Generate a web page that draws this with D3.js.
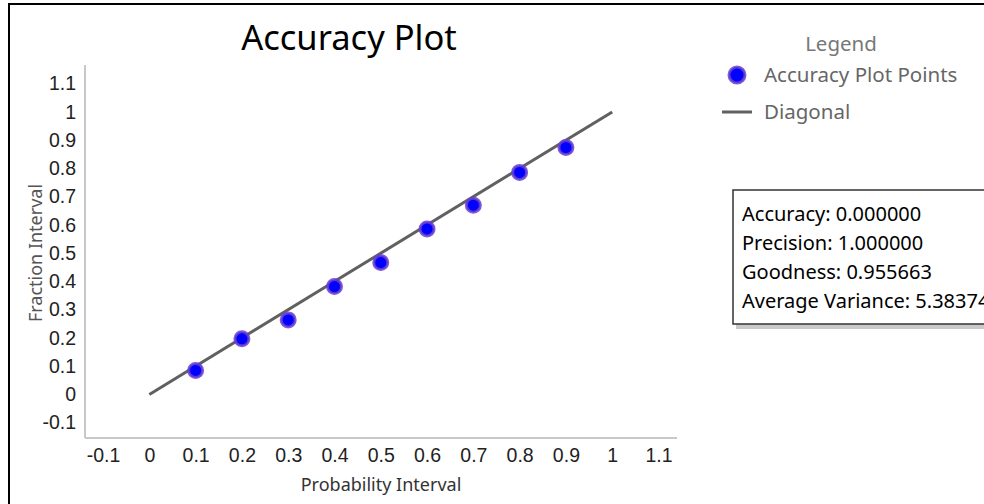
<!DOCTYPE html>
<html><head><meta charset="utf-8">
<script src="https://cdn.jsdelivr.net/npm/d3@7"></script>
<style>
html,body{margin:0;padding:0;background:#fff;}
svg{display:block;font-family:"Noto Sans","Open Sans",sans-serif;}
</style></head>
<body>
<svg id="chart" width="984" height="504"></svg>
<script>
const title = "Accuracy Plot";
const xLabel = "Probability Interval";
const yLabel = "Fraction Interval";
const probability = [0.1, 0.2, 0.3, 0.4, 0.5, 0.6, 0.7, 0.8, 0.9];
const fraction = [0.085, 0.197, 0.264, 0.382, 0.467, 0.586, 0.670, 0.786, 0.874];
const diagonalX = [0, 1];
const diagonalY = [0, 1];
const xTicks = [-0.1, 0, 0.1, 0.2, 0.3, 0.4, 0.5, 0.6, 0.7, 0.8, 0.9, 1, 1.1];
const yTicks = [-0.1, 0, 0.1, 0.2, 0.3, 0.4, 0.5, 0.6, 0.7, 0.8, 0.9, 1, 1.1];
const legendTitle = "Legend";
const legendItems = ["Accuracy Plot Points", "Diagonal"];
const statsLines = ["Accuracy: 0.000000", "Precision: 1.000000", "Goodness: 0.955663", "Average Variance: 5.383740"];

const svg = d3.select("#chart");
const x = d3.scaleLinear().domain([-0.139, 1.14]).range([85, 677]);
const y = d3.scaleLinear().domain([-0.154, 1.166]).range([438, 65]);
const fmt = d => String(+d.toFixed(2));

// frame
svg.append("rect").attr("x",9).attr("y",4).attr("width",1000).attr("height",520)
  .attr("fill","none").attr("stroke","#000").attr("stroke-width",2);

// title
svg.append("text").attr("x",349).attr("y",50).attr("text-anchor","middle")
  .attr("font-size",34.5).attr("fill","#000").text(title);

// axes
const xAxis = svg.append("g").attr("transform","translate(0,438)")
  .call(d3.axisBottom(x).tickValues(xTicks).tickSize(0).tickPadding(10).tickFormat(fmt));
xAxis.select(".domain").remove();
xAxis.selectAll("text").attr("font-size",19.5).attr("fill","#222").attr("font-family","inherit");
const yAxis = svg.append("g").attr("transform","translate(85,0)")
  .call(d3.axisLeft(y).tickValues(yTicks).tickSize(0).tickPadding(9).tickFormat(fmt));
yAxis.select(".domain").remove();
yAxis.selectAll("text").attr("font-size",19.5).attr("fill","#222").attr("font-family","inherit");

svg.append("line").attr("x1",85).attr("x2",677).attr("y1",438).attr("y2",438)
  .attr("stroke","#c8c8c8").attr("stroke-width",2);
svg.append("line").attr("x1",85).attr("x2",85).attr("y1",65).attr("y2",438)
  .attr("stroke","#c8c8c8").attr("stroke-width",2);

// axis labels
svg.append("text").attr("x",381).attr("y",491).attr("text-anchor","middle")
  .attr("font-size",18).attr("fill","#333").text(xLabel);
svg.append("text").attr("transform","translate(42,253) rotate(-90)").attr("text-anchor","middle")
  .attr("font-size",18).attr("fill","#555").text(yLabel);

// diagonal
const line = d3.line().x(d=>x(d[0])).y(d=>y(d[1]));
svg.append("path").datum(diagonalX.map((v,i)=>[v,diagonalY[i]])).attr("d",line)
  .attr("fill","none").attr("stroke","#606060").attr("stroke-width",3);

// points
svg.append("g").selectAll("circle").data(probability.map((p,i)=>[p,fraction[i]])).join("circle")
  .attr("cx",d=>x(d[0])).attr("cy",d=>y(d[1])).attr("r",7)
  .attr("fill","#0000ff").attr("stroke","#6a40d0").attr("stroke-opacity",0.85).attr("stroke-width",3);

// legend
svg.append("text").attr("x",841).attr("y",51).attr("text-anchor","middle")
  .attr("font-size",20.5).attr("fill","#777").text(legendTitle);
svg.append("circle").attr("cx",737).attr("cy",75).attr("r",8)
  .attr("fill","#0000ff").attr("stroke","#6a40d0").attr("stroke-opacity",0.85).attr("stroke-width",3);
svg.append("line").attr("x1",722).attr("x2",752).attr("y1",112).attr("y2",112)
  .attr("stroke","#606060").attr("stroke-width",3);
svg.selectAll(".leg").data(legendItems).join("text").attr("class","leg")
  .attr("x",764).attr("y",(d,i)=>82+i*37).attr("font-size",20.5).attr("fill","#666").text(d=>d);

// stats box with shadow
svg.append("rect").attr("x",736).attr("y",193).attr("width",300).attr("height",136)
  .attr("fill","#bbb").attr("opacity",0.8);
svg.append("rect").attr("x",733).attr("y",190).attr("width",300).attr("height",134)
  .attr("fill","#fff").attr("stroke","#333").attr("stroke-width",1.5);
svg.selectAll(".stat").data(statsLines).join("text").attr("class","stat")
  .attr("x",742).attr("y",(d,i)=>221+i*29).attr("font-size",20).attr("fill","#000").text(d=>d);
</script>
</body></html>
